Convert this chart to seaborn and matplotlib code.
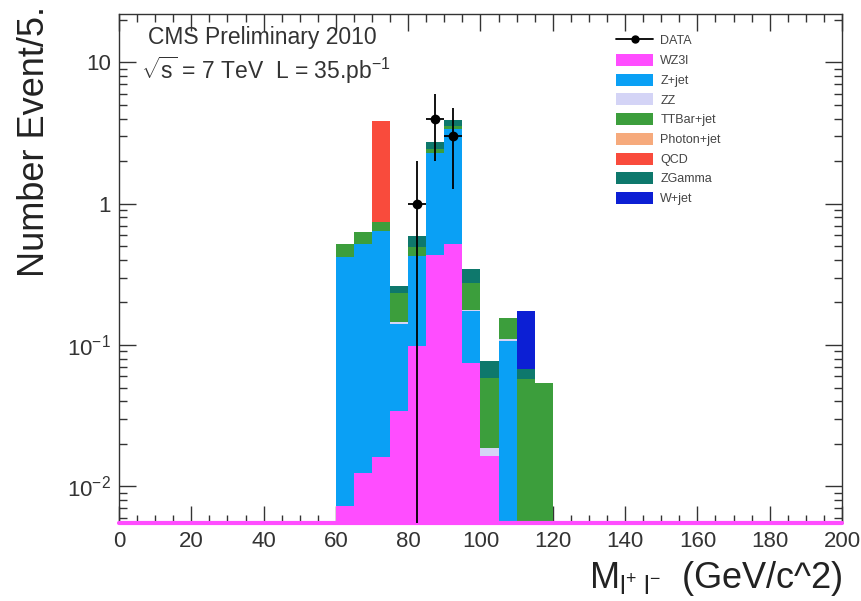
import numpy as np
import pandas as pd
import matplotlib
matplotlib.use("Agg")
import matplotlib.pyplot as plt
import matplotlib.ticker as mticker
from matplotlib.patches import Patch
from matplotlib.lines import Line2D
import seaborn as sns

# ---------------- data ----------------
mass = [62.5, 67.5, 72.5, 77.5, 82.5, 87.5, 92.5, 97.5, 102.5, 107.5, 112.5, 117.5]
wz3l   = [0.0072, 0.0124, 0.016, 0.034, 0.098, 0.43, 0.52, 0.075, 0.0163, 0, 0, 0]
zjet   = [0.409, 0.506, 0.628, 0.107, 0.33, 1.87, 2.88, 0.099, 0, 0.107, 0, 0]
zz     = [0, 0, 0, 0.005, 0, 0, 0, 0.004, 0.0023, 0.003, 0, 0]
ttbar  = [0.102, 0.108, 0.093, 0.089, 0.062, 0.12, 0.15, 0.098, 0.0394, 0.046, 0.057, 0.054]
photon = [0, 0, 0, 0, 0, 0, 0, 0, 0, 0, 0, 0]
qcd    = [0, 0, 3.14, 0, 0, 0, 0, 0, 0, 0, 0, 0]
zgamma = [0, 0, 0, 0.027, 0.103, 0.30, 0.33, 0.069, 0.019, 0, 0.011, 0]
wjet   = [0, 0, 0, 0, 0, 0, 0, 0, 0, 0, 0.106, 0]

processes = ["WZ3l", "Z+jet", "ZZ", "TTBar+jet", "Photon+jet", "QCD", "ZGamma", "W+jet"]
series = [wz3l, zjet, zz, ttbar, photon, qcd, zgamma, wjet]
colors = ["#ff4dff", "#0aa0f5", "#d4d4f6", "#3c9e3c", "#f6aa7c", "#f94b3c", "#0e786c", "#0c1fd4"]

data_x = [82.5, 87.5, 92.5]
data_y = [1, 4, 3]
data_err = [1, 2, 1.73]

x_ticks = [0, 20, 40, 60, 80, 100, 120, 140, 160, 180, 200]
y_ticks = [0.01, 0.1, 1, 10]
y_labels = ["10$^{-2}$", "10$^{-1}$", "1", "10"]

# ---------------- figure ----------------
sns.set_theme(style="ticks")
plt.rcParams["font.family"] = ["Liberation Sans", "DejaVu Sans"]
plt.rcParams["mathtext.fontset"] = "custom"
plt.rcParams["mathtext.rm"] = "Liberation Sans"
plt.rcParams["mathtext.it"] = "Liberation Sans:italic"
plt.rcParams["mathtext.bf"] = "Liberation Sans:bold"

W, H = 862, 601
fig = plt.figure(figsize=(W / 100, H / 100), dpi=100)
ax = fig.add_axes([119 / W, 1 - 523 / H, (842 - 119) / W, (523 - 14) / H])

rows = []
for p, vals in zip(processes, series):
    for m, v in zip(mass, vals):
        rows.append({"mass": m, "w": v, "process": p})
df = pd.DataFrame(rows)

edges = [float(e) for e in range(60, 125, 5)]
palette = dict(zip(processes, colors))
sns.histplot(data=df, x="mass", weights="w", hue="process",
             hue_order=processes[::-1], multiple="stack", bins=edges,
             palette=palette, element="bars", linewidth=0, alpha=1,
             legend=False, ax=ax)

ax.set_yscale("log")
ymin, ymax = 0.0055, 22
ax.set_ylim(ymin, ymax)
ax.set_xlim(0, 200)

# data points
ax.errorbar(data_x, data_y, yerr=data_err, xerr=2.5, fmt="o", color="black",
            ms=6, lw=1.3, capsize=0, zorder=10)

# magenta floor of WZ3l histogram
ax.axhline(ymin, color=colors[0], lw=3, zorder=5, clip_on=False)

# ticks
ax.set_xticks(x_ticks)
ax.xaxis.set_minor_locator(mticker.MultipleLocator(5))
ax.yaxis.set_major_locator(mticker.FixedLocator(y_ticks))
ax.yaxis.set_major_formatter(mticker.FixedFormatter(y_labels))
ax.yaxis.set_minor_locator(mticker.LogLocator(base=10, subs=np.arange(2, 10)))
ax.yaxis.set_minor_formatter(mticker.NullFormatter())
ax.tick_params(which="both", direction="in", top=True, right=True,
               colors="#333333", labelcolor="#333333", width=1)
ax.tick_params(which="major", length=12, labelsize=16, pad=6)
ax.tick_params(which="minor", length=6)
for s in ax.spines.values():
    s.set_color("#333333")
    s.set_linewidth(1)
ax.set_xlabel("")
ax.set_ylabel("")

# labels
fig.text(35 / W, 1 - 6 / H, "Number Event/5.", rotation=90, ha="center", va="top",
         fontsize=26, color="#222222")
fig.text(843 / W, 1 - 588 / H, r"M$_{\mathregular{l^{+}\ l^{-}}}$  (GeV/c^2)",
         ha="right", va="baseline", fontsize=26, color="#222222")

fig.text(148 / W, 1 - 44 / H, "CMS Preliminary 2010", ha="left", va="baseline",
         fontsize=16.5, color="#333333")
fig.text(141 / W, 1 - 79 / H, r"$\sqrt{\mathregular{s}}$ = 7 TeV  L = 35.pb$^{-1}$",
         ha="left", va="baseline", fontsize=16.5, color="#333333")

# legend
handles = [Line2D([0], [0], color="black", marker="o", ms=5, lw=1.3)]
labels = ["DATA"]
for p, c in zip(processes, colors):
    handles.append(Patch(facecolor=c, edgecolor="none"))
    labels.append(p)
leg = ax.legend(handles, labels, loc="upper left",
                bbox_to_anchor=(616 / W, 1 - 34 / H), bbox_transform=fig.transFigure,
                frameon=False, fontsize=9, handlelength=3.0, handleheight=1.1,
                handletextpad=0.55, labelspacing=0.52, borderpad=0, borderaxespad=0)
for t in leg.get_texts():
    t.set_color("#444444")

fig.savefig("out.png", dpi=100)
